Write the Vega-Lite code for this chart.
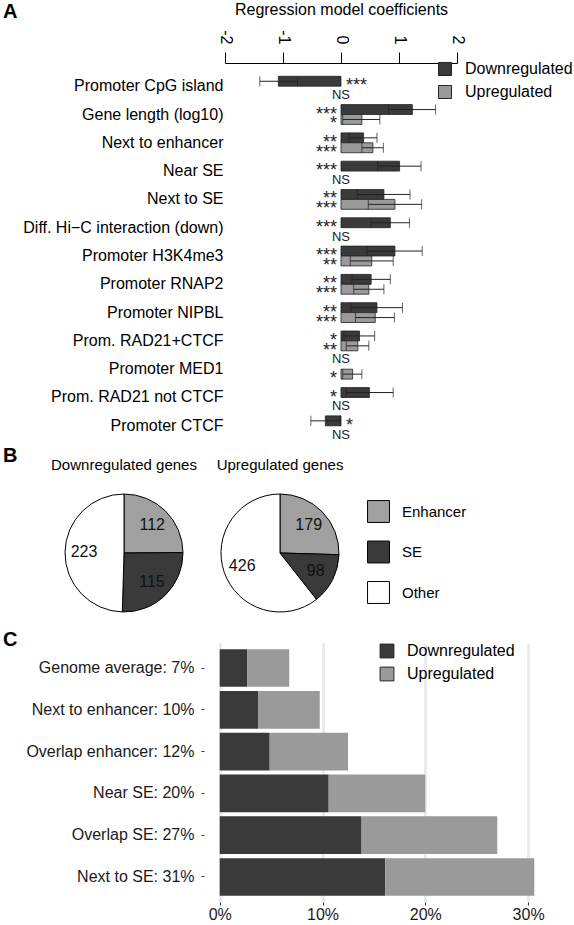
{
  "$schema": "https://vega.github.io/schema/vega-lite/v6.json",
  "padding": {"left": 3, "top": 1, "right": 0, "bottom": 0},
  "autosize": {"type": "pad"},
  "config": {
    "font": "Liberation Sans",
    "view": {"stroke": null},
    "axis": {"labelColor": "#000", "titleColor": "#000"},
    "legend": {"labelColor": "#000"},
    "title": {"color": "#000"}
  },
  "datasets": {
    "coef": [
      {"feature": "Promoter CpG island", "dir": "Downregulated", "coef": -1.08, "lo": -1.40, "hi": -0.75, "sig": "***"},
      {"feature": "Promoter CpG island", "dir": "Upregulated", "coef": null, "lo": null, "hi": null, "sig": "NS"},
      {"feature": "Gene length (log10)", "dir": "Downregulated", "coef": 1.23, "lo": 0.82, "hi": 1.63, "sig": "***"},
      {"feature": "Gene length (log10)", "dir": "Upregulated", "coef": 0.36, "lo": 0.03, "hi": 0.67, "sig": "*"},
      {"feature": "Next to enhancer", "dir": "Downregulated", "coef": 0.39, "lo": 0.14, "hi": 0.62, "sig": "**"},
      {"feature": "Next to enhancer", "dir": "Upregulated", "coef": 0.55, "lo": 0.36, "hi": 0.73, "sig": "***"},
      {"feature": "Near SE", "dir": "Downregulated", "coef": 1.01, "lo": 0.63, "hi": 1.38, "sig": "***"},
      {"feature": "Near SE", "dir": "Upregulated", "coef": null, "lo": null, "hi": null, "sig": "NS"},
      {"feature": "Next to SE", "dir": "Downregulated", "coef": 0.74, "lo": 0.28, "hi": 1.19, "sig": "**"},
      {"feature": "Next to SE", "dir": "Upregulated", "coef": 0.93, "lo": 0.47, "hi": 1.39, "sig": "***"},
      {"feature": "Diff. Hi−C interaction (down)", "dir": "Downregulated", "coef": 0.85, "lo": 0.52, "hi": 1.18, "sig": "***"},
      {"feature": "Diff. Hi−C interaction (down)", "dir": "Upregulated", "coef": null, "lo": null, "hi": null, "sig": "NS"},
      {"feature": "Promoter H3K4me3", "dir": "Downregulated", "coef": 0.93, "lo": 0.45, "hi": 1.40, "sig": "***"},
      {"feature": "Promoter H3K4me3", "dir": "Upregulated", "coef": 0.53, "lo": 0.16, "hi": 0.90, "sig": "**"},
      {"feature": "Promoter RNAP2", "dir": "Downregulated", "coef": 0.52, "lo": 0.19, "hi": 0.85, "sig": "**"},
      {"feature": "Promoter RNAP2", "dir": "Upregulated", "coef": 0.48, "lo": 0.22, "hi": 0.74, "sig": "***"},
      {"feature": "Promoter NIPBL", "dir": "Downregulated", "coef": 0.62, "lo": 0.17, "hi": 1.06, "sig": "**"},
      {"feature": "Promoter NIPBL", "dir": "Upregulated", "coef": 0.59, "lo": 0.25, "hi": 0.92, "sig": "***"},
      {"feature": "Prom. RAD21+CTCF", "dir": "Downregulated", "coef": 0.32, "lo": 0.05, "hi": 0.58, "sig": "*"},
      {"feature": "Prom. RAD21+CTCF", "dir": "Upregulated", "coef": 0.29, "lo": 0.09, "hi": 0.48, "sig": "**"},
      {"feature": "Promoter MED1", "dir": "Downregulated", "coef": null, "lo": null, "hi": null, "sig": "NS"},
      {"feature": "Promoter MED1", "dir": "Upregulated", "coef": 0.20, "lo": 0.03, "hi": 0.36, "sig": "*"},
      {"feature": "Prom. RAD21 not CTCF", "dir": "Downregulated", "coef": 0.49, "lo": 0.09, "hi": 0.90, "sig": "*"},
      {"feature": "Prom. RAD21 not CTCF", "dir": "Upregulated", "coef": null, "lo": null, "hi": null, "sig": "NS"},
      {"feature": "Promoter CTCF", "dir": "Downregulated", "coef": -0.27, "lo": -0.52, "hi": -0.02, "sig": "*"},
      {"feature": "Promoter CTCF", "dir": "Upregulated", "coef": null, "lo": null, "hi": null, "sig": "NS"}
    ],
    "pie": [
      {"group": "Downregulated genes", "cat": "Enhancer", "n": 112, "rank": 1},
      {"group": "Downregulated genes", "cat": "SE", "n": 115, "rank": 2},
      {"group": "Downregulated genes", "cat": "Other", "n": 223, "rank": 3},
      {"group": "Upregulated genes", "cat": "Enhancer", "n": 179, "rank": 1},
      {"group": "Upregulated genes", "cat": "SE", "n": 98, "rank": 2},
      {"group": "Upregulated genes", "cat": "Other", "n": 426, "rank": 3}
    ],
    "enrich": [
      {"cat": "Genome average: 7%", "dir": "Downregulated", "pct": 2.66},
      {"cat": "Genome average: 7%", "dir": "Upregulated", "pct": 4.10},
      {"cat": "Next to enhancer: 10%", "dir": "Downregulated", "pct": 3.73},
      {"cat": "Next to enhancer: 10%", "dir": "Upregulated", "pct": 6.00},
      {"cat": "Overlap enhancer: 12%", "dir": "Downregulated", "pct": 4.86},
      {"cat": "Overlap enhancer: 12%", "dir": "Upregulated", "pct": 7.62},
      {"cat": "Near SE: 20%", "dir": "Downregulated", "pct": 10.60},
      {"cat": "Near SE: 20%", "dir": "Upregulated", "pct": 9.40},
      {"cat": "Overlap SE: 27%", "dir": "Downregulated", "pct": 13.80},
      {"cat": "Overlap SE: 27%", "dir": "Upregulated", "pct": 13.20},
      {"cat": "Next to SE: 31%", "dir": "Downregulated", "pct": 16.10},
      {"cat": "Next to SE: 31%", "dir": "Upregulated", "pct": 14.50}
    ]
  },
  "vconcat": [
    {
      "width": 395,
      "height": 386,
      "title": {"text": "A", "anchor": "start", "frame": "group", "dx": -59, "offset": -20, "fontSize": 20, "fontWeight": "bold"},
      "data": {"name": "coef"},
      "encoding": {
        "y": {"field": "feature", "type": "nominal", "sort": null,
          "scale": {"paddingInner": 0.3, "paddingOuter": 0.47},
          "axis": {"title": null, "domain": false, "ticks": false, "labelPadding": 2, "labelFontSize": 16, "labelLimit": 400, "offset": -163}},
        "yOffset": {"field": "dir", "type": "nominal", "sort": ["Downregulated", "Upregulated"]}
      },
      "layer": [
        {
          "transform": [{"filter": "isValid(datum.coef)"}],
          "mark": {"type": "bar", "stroke": "#222", "strokeWidth": 0.8},
          "encoding": {
            "x": {"field": "coef", "type": "quantitative",
              "scale": {"domain": [-2, 2], "nice": false, "range": [163, 395]},
              "axis": {"orient": "top", "title": "Regression model coefficients", "titleFontSize": 16, "titleFontWeight": "normal", "titlePadding": 12,
                "values": [-2, -1, 0, 1, 2], "labelAngle": 90, "labelAlign": "right", "labelBaseline": "middle", "labelFontSize": 16,
                "labelExpr": "datum.value < 0 ? '-' + abs(datum.value) : '' + datum.value",
                "tickSize": 11, "labelPadding": 8, "domainColor": "#000", "tickColor": "#000", "grid": false}},
            "x2": {"datum": 0},
            "color": {"field": "dir", "type": "nominal",
              "scale": {"domain": ["Downregulated", "Upregulated"], "range": ["#3a3a3a", "#9a9a9a"]},
              "legend": {"title": null, "orient": "none", "legendX": 375, "legendY": -2, "symbolType": "square", "symbolSize": 170,
                "symbolStrokeColor": "#222", "symbolStrokeWidth": 1, "labelFontSize": 16, "labelOffset": 12, "rowPadding": 5, "padding": 0}}
          }
        },
        {
          "transform": [{"filter": "isValid(datum.coef)"}],
          "mark": {"type": "rule", "color": "#222", "strokeWidth": 1},
          "encoding": {"x": {"field": "lo", "type": "quantitative"}, "x2": {"field": "hi"}}
        },
        {
          "transform": [{"filter": "isValid(datum.coef)"}],
          "mark": {"type": "tick", "color": "#222", "thickness": 1, "size": 10},
          "encoding": {"x": {"field": "lo", "type": "quantitative"}}
        },
        {
          "transform": [{"filter": "isValid(datum.coef)"}],
          "mark": {"type": "tick", "color": "#222", "thickness": 1, "size": 10},
          "encoding": {"x": {"field": "hi", "type": "quantitative"}}
        },
        {
          "transform": [{"filter": "datum.sig != 'NS' && datum.coef > 0"}],
          "mark": {"type": "text", "align": "right", "baseline": "alphabetic", "dx": -4, "dy": 10, "fontSize": 18, "color": "#222"},
          "encoding": {"x": {"datum": 0}, "text": {"field": "sig"}}
        },
        {
          "transform": [{"filter": "datum.sig != 'NS' && datum.coef < 0"}],
          "mark": {"type": "text", "align": "left", "baseline": "alphabetic", "dx": 5, "dy": 10, "fontSize": 18, "color": "#222"},
          "encoding": {"x": {"datum": 0}, "text": {"field": "sig"}}
        },
        {
          "transform": [{"filter": "datum.sig == 'NS' && datum.dir == 'Upregulated'"}],
          "mark": {"type": "text", "align": "center", "baseline": "middle", "dy": 4, "fontSize": 13, "color": "#222"},
          "encoding": {"x": {"datum": 0}, "text": {"field": "sig"}}
        },
        {
          "transform": [{"filter": "datum.sig == 'NS' && datum.dir == 'Downregulated'"}],
          "mark": {"type": "text", "align": "center", "baseline": "middle", "dy": -5, "fontSize": 13, "color": "#222"},
          "encoding": {"x": {"datum": 0}, "text": {"field": "sig"}}
        }
      ]
    },
    {
      "title": {"text": "B", "anchor": "start", "frame": "group", "dx": -59, "offset": -8, "fontSize": 20, "fontWeight": "bold"},
      "spacing": 32,
      "bounds": "flush",
      "resolve": {"scale": {"color": "shared"}},
      "hconcat": [
        {
          "width": 124, "height": 160,
          "title": {"text": "Downregulated genes", "fontSize": 15, "fontWeight": "normal", "offset": 0},
          "data": {"name": "pie"},
          "transform": [{"filter": "datum.group == 'Downregulated genes'"}],
          "encoding": {"theta": {"field": "n", "type": "quantitative", "stack": true}, "order": {"field": "rank", "type": "quantitative"}},
          "layer": [
            {"mark": {"type": "arc", "outerRadius": 59, "stroke": "#000", "strokeWidth": 1},
             "encoding": {"color": {"field": "cat", "type": "nominal",
               "scale": {"domain": ["Enhancer", "SE", "Other"], "range": ["#a0a0a0", "#3a3a3a", "#ffffff"]},
               "legend": {"title": null, "orient": "none", "legendX": 305, "legendY": 27, "symbolType": "square", "symbolSize": 480,
                 "symbolStrokeColor": "#000", "symbolStrokeWidth": 1, "labelFontSize": 15, "labelOffset": 12, "rowPadding": 13.5, "padding": 0}}}},
            {"mark": {"type": "text", "radius": 40, "fontSize": 16, "color": "#111"},
             "encoding": {"text": {"field": "n", "type": "quantitative"}}}
          ]
        },
        {
          "width": 124, "height": 160,
          "title": {"text": "Upregulated genes", "fontSize": 15, "fontWeight": "normal", "offset": 0},
          "data": {"name": "pie"},
          "transform": [{"filter": "datum.group == 'Upregulated genes'"}],
          "encoding": {"theta": {"field": "n", "type": "quantitative", "stack": true}, "order": {"field": "rank", "type": "quantitative"}},
          "layer": [
            {"mark": {"type": "arc", "outerRadius": 59, "stroke": "#000", "strokeWidth": 1},
             "encoding": {"color": {"field": "cat", "type": "nominal",
               "scale": {"domain": ["Enhancer", "SE", "Other"], "range": ["#a0a0a0", "#3a3a3a", "#ffffff"]},
               "legend": {"title": null, "orient": "none", "legendX": 305, "legendY": 27, "symbolType": "square", "symbolSize": 480,
                 "symbolStrokeColor": "#000", "symbolStrokeWidth": 1, "labelFontSize": 15, "labelOffset": 12, "rowPadding": 13.5, "padding": 0}}}},
            {"mark": {"type": "text", "radius": 40, "fontSize": 16, "color": "#111"},
             "encoding": {"text": {"field": "n", "type": "quantitative"}}}
          ]
        }
      ]
    },
    {
      "width": 488,
      "height": 259,
      "title": {"text": "C", "anchor": "start", "frame": "group", "dx": -59, "offset": -7, "fontSize": 20, "fontWeight": "bold"},
      "data": {"name": "enrich"},
      "mark": {"type": "bar"},
      "encoding": {
        "y": {"field": "cat", "type": "nominal", "sort": null,
          "scale": {"paddingInner": 0.1, "paddingOuter": 0.15},
          "axis": {"title": null, "domain": false, "tickSize": 3, "tickColor": "#333", "labelPadding": 7, "labelFontSize": 16, "labelColor": "#1a1a1a", "labelLimit": 400, "offset": -142}},
        "x": {"field": "pct", "type": "quantitative", "stack": "zero",
          "scale": {"domain": [-1.53, 32.13], "nice": false, "zero": false, "range": [142, 488]},
          "axis": {"title": null, "values": [0, 10, 20, 30], "labelExpr": "datum.value + '%'", "domain": false, "tickSize": 3, "tickColor": "#333",
            "labelPadding": 1, "labelFontSize": 16, "labelColor": "#1a1a1a", "grid": true, "gridColor": "#ebebeb", "gridWidth": 3}},
        "color": {"field": "dir", "type": "nominal",
          "scale": {"domain": ["Downregulated", "Upregulated"], "range": ["#3a3a3a", "#9a9a9a"]},
          "legend": {"title": null, "orient": "none", "legendX": 317, "legendY": 0, "symbolType": "square", "symbolSize": 190,
            "symbolStrokeColor": "#222", "symbolStrokeWidth": 1, "labelFontSize": 16, "labelOffset": 12, "rowPadding": 5, "padding": 0}}
      }
    }
  ],
  "spacing": -3,
  "resolve": {"scale": {"color": "independent"}, "legend": {"color": "independent"}}
}
